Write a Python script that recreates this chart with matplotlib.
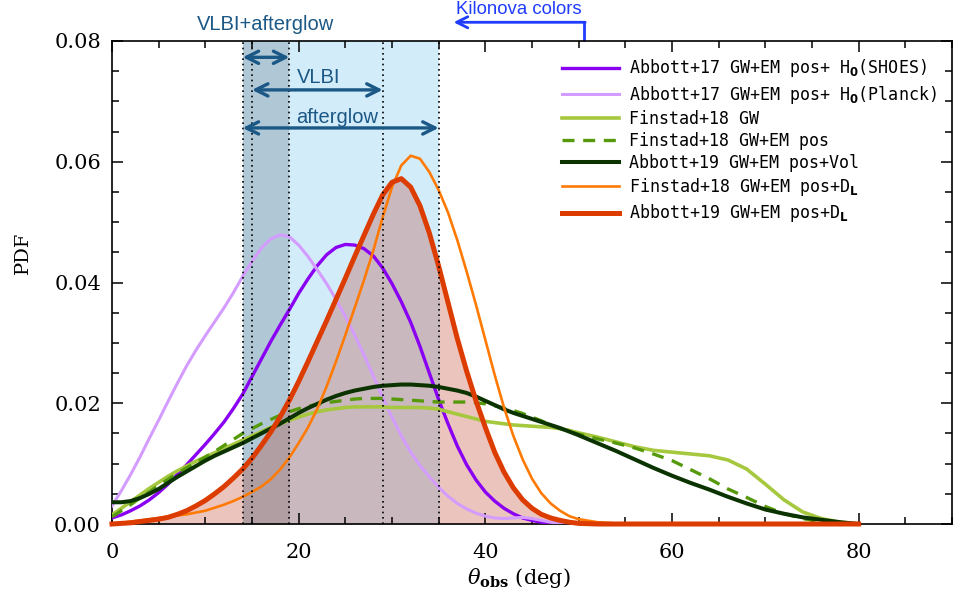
import numpy as np
import matplotlib
matplotlib.use('Agg')
import matplotlib.pyplot as plt
from matplotlib.patches import Rectangle
from matplotlib.font_manager import FontProperties
from matplotlib.ticker import MultipleLocator, FormatStrFormatter

# viewing angle grid (deg): 1 deg steps up to 50, then 2 deg steps
theta = np.r_[np.arange(0, 51), np.arange(52, 81, 2)]

zeros_tail = [0.0] * 15

abbott17_shoes = [
    0.0010, 0.0015, 0.0022, 0.0030, 0.0040, 0.0052, 0.0066, 0.0082, 0.0098, 0.0115,
    0.0132, 0.0150, 0.0169, 0.0191, 0.0215, 0.0244, 0.0273, 0.0302, 0.0329, 0.0355,
    0.0382, 0.0406, 0.0428, 0.0446, 0.0458, 0.0463, 0.0462, 0.0456, 0.0444, 0.0424,
    0.0398, 0.0368, 0.0334, 0.0294, 0.0250, 0.0206, 0.0166, 0.0129, 0.0098, 0.0073,
    0.0053, 0.0038, 0.0026, 0.0017, 0.0010, 0.0006, 0.0003, 0.0001, 0.0000, 0.0000,
    0.0000] + zeros_tail

abbott17_planck = [
    0.0030, 0.0055, 0.0082, 0.0111, 0.0142, 0.0172, 0.0203, 0.0233, 0.0262, 0.0288,
    0.0312, 0.0335, 0.0358, 0.0383, 0.0410, 0.0435, 0.0457, 0.0472, 0.0479, 0.0476,
    0.0462, 0.0443, 0.0421, 0.0398, 0.0372, 0.0344, 0.0313, 0.0280, 0.0245, 0.0210,
    0.0177, 0.0146, 0.0119, 0.0097, 0.0078, 0.0061, 0.0046, 0.0034, 0.0025, 0.0018,
    0.0013, 0.0010, 0.0009, 0.0010, 0.0011, 0.0009, 0.0006, 0.0003, 0.0001, 0.0000,
    0.0000] + zeros_tail

finstad18_gw = [
    0.0015, 0.0026, 0.0037, 0.0048, 0.0059, 0.0069, 0.0079, 0.0088, 0.0096, 0.0104,
    0.0111, 0.0118, 0.0125, 0.0132, 0.0139, 0.0146, 0.0153, 0.0160, 0.0166, 0.0172,
    0.0177, 0.0182, 0.0186, 0.0189, 0.0191, 0.0193, 0.0194, 0.0194, 0.0194, 0.0194,
    0.0193, 0.0193, 0.0193, 0.0193, 0.0192, 0.0190, 0.0186, 0.0182, 0.0178, 0.0174,
    0.0170, 0.0168, 0.0166, 0.0164, 0.0163, 0.0162, 0.0161, 0.0160, 0.0158, 0.0155,
    0.0151,
    0.0144, 0.0136, 0.0128, 0.0122, 0.0119, 0.0116, 0.0113, 0.0106, 0.0091, 0.0066,
    0.0040, 0.0020, 0.0009, 0.0003, 0.0000]

finstad18_gw_em = [
    0.0012, 0.0022, 0.0032, 0.0043, 0.0053, 0.0064, 0.0074, 0.0084, 0.0093, 0.0102,
    0.0111, 0.0120, 0.0130, 0.0140, 0.0150, 0.0158, 0.0166, 0.0173, 0.0180, 0.0186,
    0.0191, 0.0195, 0.0198, 0.0201, 0.0203, 0.0205, 0.0207, 0.0208, 0.0208, 0.0208,
    0.0207, 0.0206, 0.0205, 0.0204, 0.0203, 0.0202, 0.0202, 0.0202, 0.0202, 0.0201,
    0.0199, 0.0196, 0.0192, 0.0188, 0.0183, 0.0177, 0.0171, 0.0164, 0.0158, 0.0153,
    0.0149,
    0.0141, 0.0134, 0.0126, 0.0116, 0.0105, 0.0090, 0.0075, 0.0058, 0.0044, 0.0029,
    0.0017, 0.0009, 0.0004, 0.0001, 0.0000]

abbott19_vol = [
    0.0036, 0.0036, 0.0038, 0.0043, 0.0050, 0.0058, 0.0068, 0.0078, 0.0087, 0.0096,
    0.0105, 0.0113, 0.0120, 0.0127, 0.0134, 0.0142, 0.0150, 0.0158, 0.0166, 0.0175,
    0.0184, 0.0192, 0.0199, 0.0206, 0.0212, 0.0217, 0.0221, 0.0224, 0.0227, 0.0229,
    0.0230, 0.0231, 0.0231, 0.0230, 0.0229, 0.0227, 0.0224, 0.0221, 0.0217, 0.0211,
    0.0204, 0.0197, 0.0190, 0.0184, 0.0179, 0.0174, 0.0169, 0.0164, 0.0159, 0.0153,
    0.0147,
    0.0134, 0.0121, 0.0107, 0.0093, 0.0080, 0.0068, 0.0057, 0.0045, 0.0034, 0.0024,
    0.0017, 0.0011, 0.0007, 0.0003, 0.0000]

finstad18_dl = [
    0.0000, 0.0002, 0.0004, 0.0006, 0.0008, 0.0010, 0.0012, 0.0014, 0.0016, 0.0019,
    0.0022, 0.0027, 0.0032, 0.0038, 0.0045, 0.0053, 0.0062, 0.0074, 0.0090, 0.0110,
    0.0134, 0.0160, 0.0191, 0.0228, 0.0269, 0.0313, 0.0358, 0.0404, 0.0453, 0.0508,
    0.0558, 0.0594, 0.0610, 0.0605, 0.0583, 0.0553, 0.0516, 0.0470, 0.0418, 0.0363,
    0.0305, 0.0247, 0.0193, 0.0146, 0.0107, 0.0075, 0.0051, 0.0034, 0.0022, 0.0013,
    0.0008,
    0.0003, 0.0001, 0.0000, 0.0000, 0.0000, 0.0000, 0.0000, 0.0000, 0.0000, 0.0000,
    0.0000, 0.0000, 0.0000, 0.0000, 0.0000]

abbott19_dl = [
    0.0000, 0.0001, 0.0002, 0.0004, 0.0006, 0.0008, 0.0011, 0.0016, 0.0022, 0.0030,
    0.0039, 0.0050, 0.0062, 0.0076, 0.0091, 0.0109, 0.0130, 0.0152, 0.0177, 0.0205,
    0.0236, 0.0269, 0.0303, 0.0337, 0.0372, 0.0407, 0.0443, 0.0478, 0.0513, 0.0545,
    0.0566, 0.0572, 0.0558, 0.0527, 0.0482, 0.0427, 0.0367, 0.0307, 0.0253, 0.0204,
    0.0160, 0.0119, 0.0086, 0.0060, 0.0040, 0.0026, 0.0016, 0.0010, 0.0006, 0.0003,
    0.0001] + zeros_tail

labels = [
    r"Abbott+17 GW+EM pos+ H$_\mathbf{0}$(SHOES)",
    r"Abbott+17 GW+EM pos+ H$_\mathbf{0}$(Planck)",
    "Finstad+18 GW",
    "Finstad+18 GW+EM pos",
    "Abbott+19 GW+EM pos+Vol",
    r"Finstad+18 GW+EM pos+D$_\mathbf{L}$",
    r"Abbott+19 GW+EM pos+D$_\mathbf{L}$",
]

# angle constraints (deg)
vlbi_afterglow = (14, 19)
vlbi = (15, 29)
afterglow = (14, 35)
kilonova_max = 50.6

fig = plt.figure(figsize=(9.55, 6.03), dpi=100)
ax = fig.add_axes([112 / 955, 79 / 603, 840 / 955, 483 / 603])
ax.set_xlim(0, 90)
ax.set_ylim(0, 0.08)

# shaded constraint regions
ax.axvspan(*afterglow, color='#d3ecfa', lw=0, zorder=0)
ax.axvspan(*vlbi_afterglow, color='#b0c8d6', lw=0, zorder=0.5)

# filled area under Abbott+19 D_L, tinted differently inside each band
def shaded_fill(lo, hi, color, z):
    coll = ax.fill_between(theta, 0, abbott19_dl, color=color, lw=0, zorder=z)
    if lo is not None:
        coll.set_clip_path(Rectangle((lo, 0), hi - lo, 1, transform=ax.transData))

shaded_fill(None, None, '#ecc4be', 1)
shaded_fill(afterglow[0], afterglow[1], '#c9b9be', 1.1)
shaded_fill(vlbi_afterglow[0], vlbi_afterglow[1], '#b19ea3', 1.2)

for xv in sorted(set(vlbi_afterglow + vlbi + afterglow)):
    ax.axvline(xv, color='black', ls=(0, (1, 2.2)), lw=1.2, zorder=6)

ax.plot(theta, abbott17_shoes, color='#8a00f2', lw=2.4, label=labels[0], zorder=3)
ax.plot(theta, abbott17_planck, color='#d49cff', lw=2.2, label=labels[1], zorder=3)
ax.plot(theta, finstad18_gw, color='#a6c83e', lw=2.6, label=labels[2], zorder=3)
ax.plot(theta, finstad18_gw_em, color='#569a0c', lw=2.4, ls=(0, (3.6, 2.6)),
        label=labels[3], zorder=3)
ax.plot(theta, abbott19_vol, color='#0b3300', lw=2.9, label=labels[4], zorder=3)
ax.plot(theta, finstad18_dl, color='#ff7a05', lw=1.9, label=labels[5], zorder=3)
ax.plot(theta, abbott19_dl, color='#dc3c00', lw=3.6, label=labels[6], zorder=4,
        clip_on=False)

# arrows for the constraints
arrow_col = '#1b5886'
arrow_kw = dict(arrowstyle='<->', lw=2.4, color=arrow_col, mutation_scale=22,
                shrinkA=0, shrinkB=0)
for (lo, hi), yy in [(vlbi_afterglow, 0.0773), (vlbi, 0.0719), (afterglow, 0.0656)]:
    ax.annotate('', xy=(hi, yy), xytext=(lo, yy), arrowprops=arrow_kw, zorder=7)

ax.text(16.5, 0.0827, 'VLBI+afterglow', color=arrow_col, ha='center', va='center',
        fontsize=14.5, family='Liberation Sans', clip_on=False)
ax.text(22.1, 0.0739, 'VLBI', color=arrow_col, ha='center', va='center',
        fontsize=14.5, family='Liberation Sans', zorder=7)
ax.text(24.1, 0.0674, 'afterglow', color=arrow_col, ha='center', va='center',
        fontsize=14.5, family='Liberation Sans', zorder=7)

# kilonova colors bracket above the plot
kn_col = '#1f3cff'
ax.plot([kilonova_max, kilonova_max], [0.080, 0.0831], color=kn_col, lw=2,
        clip_on=False, solid_capstyle='butt')
ax.annotate('', xy=(36.6, 0.0831), xytext=(kilonova_max + 0.1, 0.0831),
            arrowprops=dict(arrowstyle='->', lw=2, color=kn_col, mutation_scale=20,
                            shrinkA=0, shrinkB=0), annotation_clip=False)
ax.text(43.6, 0.0853, 'Kilonova colors', color=kn_col, ha='center', va='center',
        fontsize=13.4, family='Liberation Sans', clip_on=False)

# axes styling
ax.xaxis.set_major_locator(MultipleLocator(20))
ax.xaxis.set_minor_locator(MultipleLocator(5))
ax.yaxis.set_major_locator(MultipleLocator(0.02))
ax.yaxis.set_minor_locator(MultipleLocator(0.005))
ax.yaxis.set_major_formatter(FormatStrFormatter('%.2f'))
ax.tick_params(which='both', direction='in', top=True, right=True, width=1.1)
ax.tick_params(which='major', length=8)
ax.tick_params(which='minor', length=5)
ax.tick_params(axis='x', pad=14)
ax.tick_params(axis='y', pad=8)
for lab in ax.get_xticklabels() + ax.get_yticklabels():
    lab.set_family('DejaVu Serif')
    lab.set_fontsize(15)
for sp in ax.spines.values():
    sp.set_linewidth(1.2)

fig.text(519 / 955, 1 - 578 / 603, r'$\theta_{\mathbf{obs}}$ (deg)', ha='center',
         va='center', fontsize=15, family='DejaVu Serif', math_fontfamily='dejavuserif')
fig.text(23 / 955, 1 - 253 / 603, 'PDF', rotation=90, ha='center', va='center',
         fontsize=14, family='DejaVu Serif')

leg_font = FontProperties(family='DejaVu Sans Mono', size=12.0, math_fontfamily='dejavusans')
ax.legend(loc='upper left', bbox_to_anchor=(0.536, 0.966), prop=leg_font, frameon=False,
          borderpad=0, borderaxespad=0, handlelength=3.4, handletextpad=0.6,
          labelspacing=0.25)

fig.savefig('out.png', dpi=100)
